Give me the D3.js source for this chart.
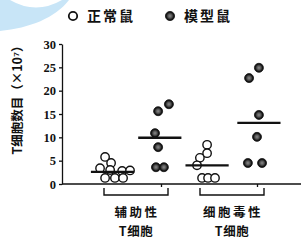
<!DOCTYPE html>
<html lang="zh">
<head>
<meta charset="UTF-8">
<script src="https://d3js.org/d3.v7.min.js"></script>
<style>
  body { margin: 0; background: #fff; }
  svg { display: block; }
  .cjk { font-family: "Noto Sans CJK SC", sans-serif; font-weight: 700; fill: #111; }
  .y-axis text { font-family: "Liberation Serif", serif; font-weight: 700; font-size: 12.5px; fill: #111; }
  .y-axis path, .y-axis line, .x-axis path, .x-axis line { stroke: #111; stroke-width: 1.3; }
</style>
</head>
<body>
<svg width="301" height="240"></svg>
<script>
// categories
const groupLabels = [["辅助性", "T细胞"], ["细胞毒性", "T细胞"]];
const legendLabels = ["正常鼠", "模型鼠"];
const cats = ["h-normal", "h-model", "c-normal", "c-model"];
const yTicks = [0, 5, 10, 15, 20, 25, 30];

// values (×10^7) and horizontal jitter (in half-step units)
const helperNormal = [5.8, 4.5, 3.4, 3.0, 2.8, 2.9, 1.3, 1.3, 1.3];
const helperNormalDx = [-0.33, -0.08, -0.54, -0.12, 0.38, 0.71, -0.33, 0.08, 0.42];
const helperModel = [15.6, 17.1, 10.9, 7.9, 3.6, 3.6];
const helperModelDx = [-0.12, 0.33, -0.25, -0.12, -0.21, 0.12];
const cytoNormal = [8.4, 6.6, 5.6, 4.0, 1.3, 1.3, 1.3];
const cytoNormalDx = [-0.08, -0.08, -0.38, -0.5, -0.29, -0.04, 0.25];
const cytoModel = [22.7, 24.9, 14.8, 10.1, 4.5, 4.5];
const cytoModelDx = [-0.33, 0.08, 0.08, 0, -0.38, 0.21];
const medians = [2.6, 9.9, 4.0, 13.1];
const medianDx = [-0.02, -0.05, -0.08, 0.08];

const series = [
  { cat: "h-normal", vals: helperNormal, dx: helperNormalDx, model: false },
  { cat: "h-model", vals: helperModel, dx: helperModelDx, model: true },
  { cat: "c-normal", vals: cytoNormal, dx: cytoNormalDx, model: false },
  { cat: "c-model", vals: cytoModel, dx: cytoModelDx, model: true }
];

const svg = d3.select("svg");

// light blue arc in the corner of the scan
svg.append("path")
   .attr("d", "M0,0 L10,0 Q36,15 62,0 L69,0 C55,18 30,28 0,31 Z")
   .attr("fill", "#c8e5f7");

const defs = svg.append("defs");
const grad = defs.append("radialGradient").attr("id", "dark");
grad.append("stop").attr("offset", "0%").attr("stop-color", "#8a8a8a");
grad.append("stop").attr("offset", "45%").attr("stop-color", "#555");
grad.append("stop").attr("offset", "80%").attr("stop-color", "#151515");

const x = d3.scalePoint().domain(cats).range([113, 257]);
const step = x.step();
const jit = d3.scaleLinear().domain([-1, 1]).range([-step / 2, step / 2]);
const y = d3.scaleLinear().domain([0, 30]).range([184, 44]);
const x0 = 62;

// y axis
svg.append("g")
   .attr("class", "y-axis")
   .attr("transform", `translate(${x0},0)`)
   .call(d3.axisLeft(y).tickValues(yTicks).tickSize(3).tickSizeOuter(0).tickPadding(3));

// x axis baseline with small ticks
svg.append("g")
   .attr("class", "x-axis")
   .attr("transform", `translate(0,${y(0)})`)
   .call(d3.axisBottom(x).tickValues(["h-model", "c-model"]).tickSize(3).tickSizeOuter(0).tickFormat(""))
   .select(".domain").attr("d", `M${x0},0H301`);

// y label
svg.append("text")
   .attr("class", "cjk")
   .attr("transform", `translate(22,97) rotate(-90)`)
   .attr("text-anchor", "middle")
   .attr("font-size", 12.5)
   .text("T细胞数目（×10⁷）");

// points
series.forEach(s => {
  svg.append("g").selectAll("circle")
     .data(s.vals.map((v, i) => ({ v, dx: s.dx[i] })))
     .join("circle")
     .attr("cx", d => x(s.cat) + jit(d.dx))
     .attr("cy", d => y(d.v))
     .attr("r", s.model ? 4.5 : 4.2)
     .attr("fill", s.model ? "url(#dark)" : "#fff")
     .attr("stroke", "#111")
     .attr("stroke-width", s.model ? 0.8 : 1.4);
});

// median bars
svg.append("g").selectAll("line")
   .data(cats.map((c, i) => ({ c, v: medians[i], dx: medianDx[i] })))
   .join("line")
   .attr("x1", d => x(d.c) + jit(d.dx) - step * 0.45)
   .attr("x2", d => x(d.c) + jit(d.dx) + step * 0.45)
   .attr("y1", d => y(d.v))
   .attr("y2", d => y(d.v))
   .attr("stroke", "#111")
   .attr("stroke-width", 2.4);

// group brackets and labels
[["h-normal", "h-model"], ["c-normal", "c-model"]].forEach((pair, i) => {
  const a = x(pair[0]) - 9, b = x(pair[1]) + 7;
  svg.append("path")
     .attr("d", `M${a},188V195H${b}V188`)
     .attr("fill", "none")
     .attr("stroke", "#111")
     .attr("stroke-width", 1.4);
  const cx = (a + b) / 2;
  groupLabels[i].forEach((t, j) => {
    svg.append("text")
       .attr("class", "cjk")
       .attr("x", cx + (j === 0 ? 1 : 0))
       .attr("y", 217 + j * 18.5)
       .attr("text-anchor", "middle")
       .attr("font-size", 12.5)
       .attr("letter-spacing", j === 0 ? 2.5 : 0.5)
       .text(t);
  });
});

// legend
const legend = svg.append("g");
legendLabels.forEach((t, i) => {
  const lx = i === 0 ? 73 : 170;
  legend.append("circle")
     .attr("cx", lx).attr("cy", 16)
     .attr("r", i === 0 ? 4.2 : 4.6)
     .attr("fill", i === 0 ? "#fff" : "url(#dark)")
     .attr("stroke", "#111")
     .attr("stroke-width", i === 0 ? 1.8 : 0.8);
  legend.append("text")
     .attr("class", "cjk")
     .attr("x", lx + 14).attr("y", 21)
     .attr("font-size", 14)
     .attr("letter-spacing", 2)
     .text(t);
});
</script>
</body>
</html>
